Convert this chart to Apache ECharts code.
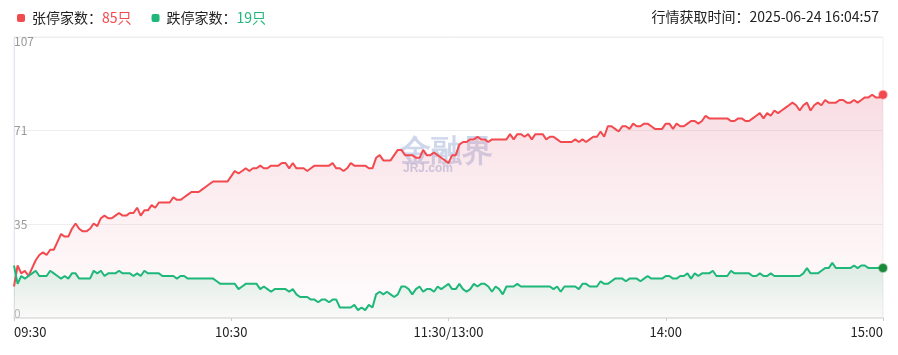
<!DOCTYPE html>
<html lang="zh-CN">
<head>
    <meta charset="UTF-8">
    <script src="https://cdn.jsdelivr.net/npm/echarts@6/dist/echarts.min.js"></script>
    <title>涨跌停家数</title>
    <style>
        html, body { margin: 0; padding: 0; background: #fff; }
    </style>
</head>
<body>
    <div id="zdt" style="width: 898px;height:355px;"></div>
    <script type="text/javascript">
        // 家数 per minute, 09:30-11:30 then 13:01-15:00
        var seriesNames = ['张停家数', '跌停家数'];
        var seriesColors = ['#f24a4f', '#1fb87a'];
        var upCount = [
            12,20,17,18,16,19,22,24,25,24,
            26,26,29,32,31,31,34,36,34,33,
            33,34,36,35,38,39,38,38,39,40,
            39,39,40,40,42,39,41,41,43,42,
            44,44,44,44,46,45,45,46,47,48,
            48,48,49,50,51,52,52,52,52,52,
            54,56,55,56,57,56,57,57,58,57,
            57,58,58,58,59,59,57,59,57,57,
            57,56,57,58,58,58,58,58,59,57,
            57,56,57,59,58,58,58,58,57,57,
            61,62,60,60,60,62,64,64,62,62,
            62,61,61,64,62,62,63,62,61,60,
            59,62,62,66,67,67,68,68,69,68,
            68,67,68,68,68,68,68,70,68,70,
            70,69,70,68,70,70,70,68,69,69,
            68,67,67,67,67,68,67,68,67,68,
            69,69,71,69,73,73,72,71,73,73,
            72,74,73,73,74,74,73,72,72,72,
            74,74,72,74,73,73,74,75,75,74,
            75,77,76,76,76,76,76,76,75,75,
            76,76,75,75,76,77,78,76,78,77,
            79,78,79,80,81,82,81,79,81,82,
            79,81,82,81,83,82,82,82,83,83,
            82,82,83,82,83,84,84,85,84,84,
            85
        ];
        var downCount = [
            20,13,16,15,16,17,18,16,16,16,
            18,17,16,15,16,15,17,17,15,15,
            15,15,18,17,18,16,17,17,17,18,
            17,17,17,16,17,16,18,17,17,17,
            17,16,16,16,16,15,16,16,15,15,
            15,15,15,15,15,15,14,13,13,13,
            13,13,11,12,13,13,13,13,11,12,
            11,10,11,11,11,11,10,11,9,8,
            8,8,7,7,6,7,7,6,7,7,
            4,4,4,4,5,3,4,3,5,4,
            9,10,9,10,9,8,9,12,12,11,
            9,11,12,10,11,11,10,12,11,12,
            13,11,11,13,11,10,11,13,12,13,
            13,12,10,12,11,9,12,12,12,13,
            12,12,12,12,12,12,12,12,12,11,
            12,10,12,12,12,12,11,13,13,12,
            12,12,14,13,13,14,15,15,15,14,
            15,15,15,14,15,16,15,15,15,15,
            16,16,15,15,16,16,17,15,17,16,
            17,17,17,18,16,16,16,16,18,17,
            17,17,17,17,16,16,17,16,16,17,
            16,16,16,16,16,16,16,16,17,19,
            17,17,17,18,19,19,21,19,19,19,
            19,19,20,19,20,20,19,19,19,19,
            19
        ];
        var tickLabels = ['09:30', '10:30', '11:30/13:00', '14:00', '15:00'];
        var fetchTime = '行情获取时间：2025-06-24 16:04:57';
        var yMax = 107;

        // minute categories
        function hhmm(m) {
            var h = Math.floor(m / 60), mm = m % 60;
            return (h < 10 ? '0' : '') + h + ':' + (mm < 10 ? '0' : '') + mm;
        }
        var times = [];
        for (var m = 570; m <= 690; m++) times.push(hhmm(m));
        for (var m = 781; m <= 900; m++) times.push(hhmm(m));

        var lastIdx = times.length - 1;
        var finalCounts = [upCount[lastIdx], downCount[lastIdx]];

        var Chart_zdt = echarts.init(document.getElementById('zdt'));
        var option_zdt = {
            animation: false,
            textStyle: { fontFamily: '"Noto Sans CJK SC", "Noto Sans", sans-serif' },
            title: {
                text: fetchTime,
                right: 14,
                top: 5,
                textStyle: { fontSize: 14, fontWeight: 'normal', color: '#222' }
            },
            legend: {
                left: 12,
                top: 6,
                icon: 'roundRect',
                itemWidth: 8,
                itemHeight: 8,
                itemGap: 20,
                selectedMode: false,
                formatter: function (name) {
                    var i = seriesNames.indexOf(name);
                    return '{t|' + name + '：}{' + (i === 0 ? 'r' : 'g') + '|' + finalCounts[i] + '只}';
                },
                textStyle: {
                    rich: {
                        t: { color: '#222', fontSize: 14, padding: [0, 0, 0, 2] },
                        r: { color: seriesColors[0], fontSize: 14 },
                        g: { color: seriesColors[1], fontSize: 14 }
                    }
                }
            },
            graphic: [
                {
                    type: 'text', left: 400, top: 137, z: 0,
                    style: { text: '金融界', fontSize: 31, fontWeight: 'bold', fill: 'rgba(190,200,228,0.75)' }
                },
                {
                    type: 'text', left: 403, top: 163, z: 0,
                    style: { text: 'JRJ.com', fontSize: 12, fontWeight: 'bold', fill: 'rgba(185,195,225,0.8)', fontFamily: 'Arial, sans-serif' }
                }
            ],
            grid: {
                left: 14,
                right: 15,
                top: 37,
                bottom: 37,
                show: true,
                borderColor: '#eeeeee',
                borderWidth: 1
            },
            xAxis: {
                type: 'category',
                data: times,
                boundaryGap: false,
                axisLine: { lineStyle: { color: '#e6e6e6', width: 2 } },
                axisTick: { show: true, interval: 59, length: 3, lineStyle: { color: '#ccc' } },
                splitLine: { show: false },
                axisLabel: {
                    interval: 59,
                    margin: 8,
                    color: '#222',
                    fontSize: 13,
                    alignMinLabel: 'left',
                    alignMaxLabel: 'right',
                    formatter: function (v, idx) {
                        return tickLabels[Math.round(idx / 60)];
                    }
                }
            },
            yAxis: {
                type: 'value',
                min: 0,
                max: yMax,
                interval: yMax / 3,
                axisLine: { show: true, lineStyle: { color: '#e3e5ee' } },
                axisTick: { show: false },
                splitLine: { lineStyle: { color: '#eeeeee' } },
                axisLabel: {
                    inside: true,
                    margin: 0,
                    color: '#999',
                    fontSize: 12,
                    formatter: function (v) {
                        var s = Math.floor(v + 1e-6);
                        if (s >= yMax) return '{top|' + s + '}';
                        if (s === 0) return '{bot|' + s + '}';
                        return '{mid|' + s + '}';
                    },
                    rich: {
                        top: { color: '#999', fontSize: 12, padding: [9, 0, 0, 0] },
                        mid: { color: '#999', fontSize: 12 },
                        bot: { color: '#bbb', fontSize: 12, padding: [0, 0, 9, 0] }
                    }
                }
            },
            series: [
                {
                    name: seriesNames[0],
                    type: 'line',
                    data: upCount,
                    showSymbol: false,
                    z: 2,
                    lineStyle: { color: seriesColors[0], width: 2 },
                    itemStyle: { color: seriesColors[0] },
                    areaStyle: {
                        color: new echarts.graphic.LinearGradient(0, 0, 0, 1, [
                            { offset: 0, color: 'rgba(226,110,135,0.34)' },
                            { offset: 1, color: 'rgba(240,170,185,0.06)' }
                        ])
                    },
                    emphasis: { disabled: true },
                    markPoint: {
                        symbol: 'circle',
                        symbolSize: 8,
                        label: { show: false },
                        itemStyle: { color: '#f24a4f', borderColor: 'rgba(242,74,79,0.35)', borderWidth: 2 },
                        data: [{ coord: [lastIdx, upCount[lastIdx]] }]
                    }
                },
                {
                    name: seriesNames[1],
                    type: 'line',
                    data: downCount,
                    showSymbol: false,
                    z: 3,
                    lineStyle: { color: seriesColors[1], width: 2 },
                    itemStyle: { color: seriesColors[1] },
                    areaStyle: {
                        color: new echarts.graphic.LinearGradient(0, 0, 0, 1, [
                            { offset: 0, color: 'rgba(40,170,110,0.22)' },
                            { offset: 1, color: 'rgba(40,170,110,0.03)' }
                        ])
                    },
                    emphasis: { disabled: true },
                    markPoint: {
                        symbol: 'circle',
                        symbolSize: 8,
                        label: { show: false },
                        itemStyle: { color: '#1a8a3a', borderColor: 'rgba(26,138,58,0.35)', borderWidth: 2 },
                        data: [{ coord: [lastIdx, downCount[lastIdx]] }]
                    }
                }
            ]
        };
        Chart_zdt.setOption(option_zdt);
    </script>
</body>
</html>
